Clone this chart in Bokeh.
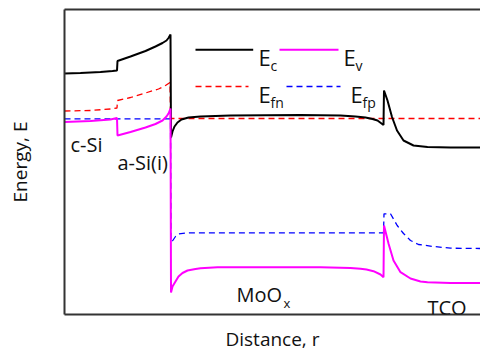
from bokeh.plotting import figure
from bokeh.models import Range1d, LinearAxis, FixedTicker, Label
from bokeh.embed import file_html
from bokeh.resources import INLINE

# ---- data (distance, energy) ----
ec_x = [0, 16, 36, 48, 52.5, 53, 66, 81, 91, 98, 102, 104, 106, 106.5, 108, 110, 113, 117, 124, 136, 166, 236, 276,
        291, 301, 308, 313, 317, 319, 319.5, 323, 327.5, 332.5, 339, 349, 363, 386, 416]
ec_y = [241, 241.5, 242.5, 243.5, 244, 253.5, 258, 263.5, 268, 271.5, 274, 276.5, 280, 177, 183, 188, 192, 195, 197,
        198, 199, 199.5, 199, 198, 197, 195.5, 194, 191, 189.5, 224, 214, 197.5, 184, 174, 169, 167.5, 167, 167]

ev_x = [0, 26, 46, 52.5, 53, 66, 81, 91, 98, 102, 104, 106, 106.5, 108, 111, 114, 118, 123, 131, 136, 153, 186, 256,
        286, 296, 302, 309, 316, 319, 319.5, 324, 329, 336, 346, 356, 363, 386, 416]
ev_y = [192.5, 193.5, 195, 196.5, 179, 182.5, 187, 190.5, 194, 198, 201, 206, 22, 28, 33, 38, 41.5, 44, 45.5, 46.3,
        47.2, 47.3, 47.3, 46.5, 45.7, 45, 43.3, 40, 37.3, 89, 71, 54, 42.3, 36, 33, 32.3, 31.5, 31.5]

efn_x = [0, 26, 46, 52.5, 53, 66, 81, 94, 101, 105.5, 106, 416]
efn_y = [203.5, 204, 205.5, 206.5, 214, 217, 221.5, 225.5, 229, 232, 196, 196]

efp_x = [0, 106, 106.5, 108.3, 111, 114.3, 121, 126, 319, 319.5, 326, 332.7, 339, 346, 354, 369, 386, 416]
efp_y = [195.7, 195.7, 73, 74, 78, 80.7, 81.4, 81.7, 81.7, 100.7, 100.7, 89, 81, 74, 70, 68, 66.3, 66]

region_names = ["c-Si", "a-Si(i)", "MoO", "TCO"]
legend_main = ["E", "E", "E", "E"]
legend_subs = ["c", "v", "fn", "fp"]
x_title = "Distance, r"
y_title = "Energy, E"

# ---- layout / styling ----
FONT = "Open Sans"
region_pos = [(6, 170), (53, 152), (172, 20), (363, 7.5)]

p = figure(width=480, height=355, output_backend="svg", toolbar_location=None,
           x_range=Range1d(0, 416), y_range=Range1d(0, 305),
           min_border_left=64, min_border_right=0, min_border_top=9, min_border_bottom=41,
           x_axis_location=None, y_axis_location=None)
p.grid.visible = False
p.outline_line_color = None
p.background_fill_color = "white"
p.border_fill_color = "white"


def make_axis(label=None, standoff=14):
    ax = LinearAxis(ticker=FixedTicker(ticks=[]))
    ax.axis_line_color = "#333333"
    ax.axis_line_width = 2
    ax.major_tick_line_color = None
    ax.minor_tick_line_color = None
    ax.major_label_text_font_size = "0px"
    if label:
        ax.axis_label = label
        ax.axis_label_text_font = FONT
        ax.axis_label_text_font_size = "19px"
        ax.axis_label_text_font_style = "normal"
        ax.axis_label_text_color = "#111111"
        ax.axis_label_standoff = standoff
    return ax


p.add_layout(make_axis(y_title, standoff=32), "left")
p.add_layout(make_axis(x_title, standoff=11), "below")
p.add_layout(make_axis(), "above")

# curves
p.line(efn_x, efn_y, line_color="#FF0000", line_width=1.3, line_dash="6 4")
p.line(efp_x, efp_y, line_color="#0000FF", line_width=1.3, line_dash="6 4")
p.line(ec_x, ec_y, line_color="black", line_width=2)
p.line(ev_x, ev_y, line_color="#FF00FF", line_width=2)

# region labels
for name, (lx, ly) in zip(region_names, region_pos):
    p.add_layout(Label(x=lx, y=ly, text=name, text_font=FONT, text_font_size="20px",
                       text_color="#111111", text_baseline="alphabetic", text_align="left"))
p.add_layout(Label(x=219, y=12, text="x", text_font=FONT, text_font_size="13px",
                   text_color="#111111", text_baseline="alphabetic", text_align="left"))

# legend (manual, 2x2)
leg_lines = [((131, 188.7), 264.7, "black", 2, "solid"),
             ((215, 274), 264.7, "#FF00FF", 2, "solid"),
             ((131, 184), 228, "#FF0000", 1.3, "6 4"),
             ((222, 276), 228, "#0000FF", 1.3, "6 4")]
leg_text = [(194, 257.3, 206, 249), (279, 257.3, 291, 249), (194, 221, 206, 212), (286, 221, 298, 212)]
for (xs, yy, col, lw, dash), (ex, ey, sx, sy), m, s in zip(leg_lines, leg_text, legend_main, legend_subs):
    p.line(list(xs), [yy, yy], line_color=col, line_width=lw, line_dash=dash)
    p.add_layout(Label(x=ex, y=ey, text=m, text_font=FONT, text_font_size="22px",
                       text_color="#111111", text_baseline="alphabetic"))
    p.add_layout(Label(x=sx, y=sy, text=s, text_font=FONT, text_font_size="14px",
                       text_color="#111111", text_baseline="alphabetic"))

open("out.html", "w").write(file_html(p, INLINE))
